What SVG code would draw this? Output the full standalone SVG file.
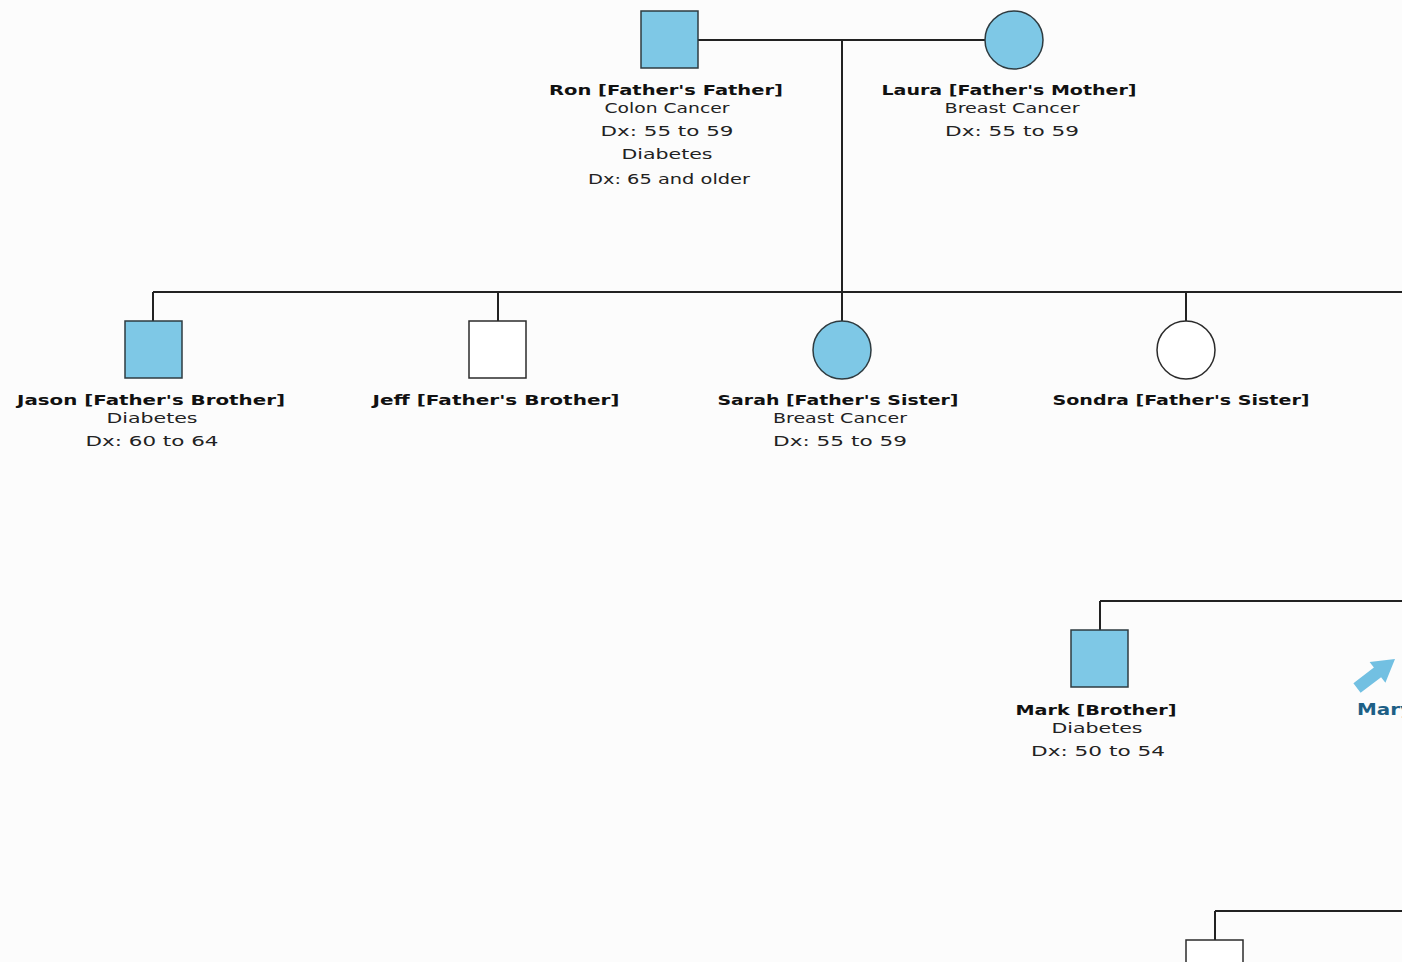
<svg xmlns="http://www.w3.org/2000/svg" width="1414" height="962" viewBox="0 0 1414 962">
  <style>
    .line { stroke: #222; stroke-width: 2; fill: none; }
    .aff { fill: #7ec8e6; stroke: #2e3b40; stroke-width: 1.5; }
    .unaff { fill: #ffffff; stroke: #2b2b2b; stroke-width: 1.5; }
    .name { font-family: "DejaVu Sans", Verdana, sans-serif; font-weight: bold; font-size: 14px; fill: #111; text-anchor: middle; }
    .info { font-family: "DejaVu Sans", Verdana, sans-serif; font-size: 13.5px; fill: #222; text-anchor: middle; }
    .link { font-family: "DejaVu Sans", Verdana, sans-serif; font-weight: bold; font-size: 15px; fill: #1d5f86; }
  </style>
  <defs>
    <clipPath id="view"><rect x="0" y="0" width="1402" height="962"/></clipPath>
  </defs>
  <rect x="0" y="0" width="1414" height="962" fill="#ffffff"/>
  <rect x="0" y="0" width="1402" height="962" fill="#fcfcfc"/>

  <g clip-path="url(#view)">
    <!-- connectors -->
    <g id="connectors">
      <line class="line" x1="698" y1="40" x2="985" y2="40"/>
      <line class="line" x1="842" y1="40" x2="842" y2="292"/>
      <line class="line" x1="153" y1="292" x2="1402" y2="292"/>
      <line class="line" x1="153" y1="292" x2="153" y2="321"/>
      <line class="line" x1="498" y1="292" x2="498" y2="321"/>
      <line class="line" x1="842" y1="292" x2="842" y2="321"/>
      <line class="line" x1="1186" y1="292" x2="1186" y2="321"/>
      <line class="line" x1="1100" y1="601" x2="1402" y2="601"/>
      <line class="line" x1="1100" y1="601" x2="1100" y2="630"/>
      <line class="line" x1="1215" y1="911" x2="1402" y2="911"/>
      <line class="line" x1="1215" y1="911" x2="1215" y2="940"/>
    </g>

    <!-- grandparents -->
    <g id="ron">
      <rect class="aff" x="641" y="11" width="57" height="57"/>
      <text class="name" x="666" y="95" textLength="234" lengthAdjust="spacingAndGlyphs">Ron [Father's Father]</text>
      <text class="info" x="667" y="113" textLength="125" lengthAdjust="spacingAndGlyphs">Colon Cancer</text>
      <text class="info" x="667" y="136" textLength="133" lengthAdjust="spacingAndGlyphs">Dx: 55 to 59</text>
      <text class="info" x="667" y="159" textLength="91" lengthAdjust="spacingAndGlyphs">Diabetes</text>
      <text class="info" x="669" y="184" textLength="162" lengthAdjust="spacingAndGlyphs">Dx: 65 and older</text>
    </g>
    <g id="laura">
      <circle class="aff" cx="1014" cy="40" r="29"/>
      <text class="name" x="1009" y="95" textLength="255" lengthAdjust="spacingAndGlyphs">Laura [Father's Mother]</text>
      <text class="info" x="1012" y="113" textLength="135" lengthAdjust="spacingAndGlyphs">Breast Cancer</text>
      <text class="info" x="1012" y="136" textLength="134" lengthAdjust="spacingAndGlyphs">Dx: 55 to 59</text>
    </g>

    <!-- father's siblings -->
    <g id="jason">
      <rect class="aff" x="125" y="321" width="57" height="57"/>
      <text class="name" x="151" y="405" textLength="268" lengthAdjust="spacingAndGlyphs">Jason [Father's Brother]</text>
      <text class="info" x="152" y="423" textLength="91" lengthAdjust="spacingAndGlyphs">Diabetes</text>
      <text class="info" x="152" y="446" textLength="133" lengthAdjust="spacingAndGlyphs">Dx: 60 to 64</text>
    </g>
    <g id="jeff">
      <rect class="unaff" x="469" y="321" width="57" height="57"/>
      <text class="name" x="496" y="405" textLength="247" lengthAdjust="spacingAndGlyphs">Jeff [Father's Brother]</text>
    </g>
    <g id="sarah">
      <circle class="aff" cx="842" cy="350" r="29"/>
      <text class="name" x="838" y="405" textLength="241" lengthAdjust="spacingAndGlyphs">Sarah [Father's Sister]</text>
      <text class="info" x="840" y="423" textLength="134" lengthAdjust="spacingAndGlyphs">Breast Cancer</text>
      <text class="info" x="840" y="446" textLength="134" lengthAdjust="spacingAndGlyphs">Dx: 55 to 59</text>
    </g>
    <g id="sondra">
      <circle class="unaff" cx="1186" cy="350" r="29"/>
      <text class="name" x="1181" y="405" textLength="257" lengthAdjust="spacingAndGlyphs">Sondra [Father's Sister]</text>
    </g>

    <!-- siblings -->
    <g id="mark">
      <rect class="aff" x="1071" y="630" width="57" height="57"/>
      <text class="name" x="1096" y="715" textLength="161" lengthAdjust="spacingAndGlyphs">Mark [Brother]</text>
      <text class="info" x="1097" y="733" textLength="91" lengthAdjust="spacingAndGlyphs">Diabetes</text>
      <text class="info" x="1098" y="756" textLength="134" lengthAdjust="spacingAndGlyphs">Dx: 50 to 54</text>
    </g>
    <g id="mary">
      <polygon fill="#72c0e2" points="1353.4,683.2 1373.9,667.6 1369.6,662.1 1395,659 1385.4,682.7 1381.1,677.2 1360.6,692.8"/>
      <text class="link" x="1357" y="715" textLength="56" lengthAdjust="spacingAndGlyphs">Mary</text>
    </g>

    <!-- next generation -->
    <g id="child">
      <rect class="unaff" x="1186" y="940" width="57" height="57"/>
    </g>
  </g>
</svg>
